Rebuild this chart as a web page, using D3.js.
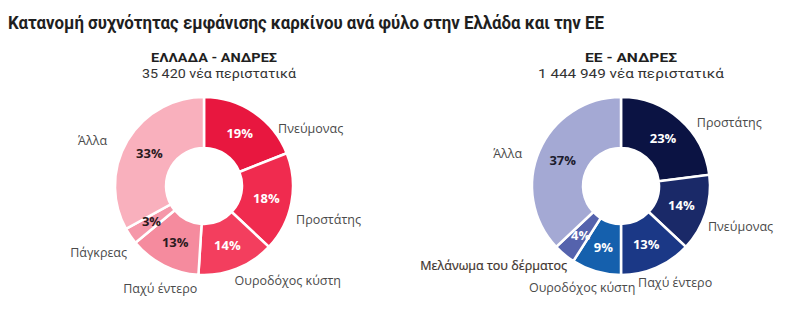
<!DOCTYPE html>
<html>
<head>
<meta charset="utf-8">
<script src="https://cdn.jsdelivr.net/npm/d3@7"></script>
<style>
  html, body { margin: 0; padding: 0; background: #ffffff; }
  svg { display: block; }
</style>
</head>
<body>
<div id="chart"></div>
<script>
// ---- Data ----
const titleText = "Κατανομή συχνότητας εμφάνισης καρκίνου ανά φύλο στην Ελλάδα και την ΕΕ";

const grTitle = "ΕΛΛΑΔΑ - ΑΝΔΡΕΣ";
const grSubtitle = "35 420 νέα περιστατικά";
const grCategories = ["Πνεύμονας", "Προστάτης", "Ουροδόχος κύστη", "Παχύ έντερο", "Πάγκρεας", "Άλλα"];
const grValues = [19, 18, 14, 13, 3, 33];

const euTitle = "ΕΕ - ΑΝΔΡΕΣ";
const euSubtitle = "1 444 949 νέα περιστατικά";
const euCategories = ["Προστάτης", "Πνεύμονας", "Παχύ έντερο", "Ουροδόχος κύστη", "Μελάνωμα του δέρματος", "Άλλα"];
const euValues = [23, 14, 13, 9, 4, 37];

// ---- Styles / layout ----
const grColors = ["#e8173f", "#f02b4f", "#f33e5e", "#f58b9e", "#f597a9", "#f9b0bd"];
const grPctColors = ["#ffffff", "#ffffff", "#ffffff", "#2b1a1d", "#2b1a1d", "#2b1a1d"];
const euColors = ["#0b1343", "#1a2968", "#1b3886", "#1560ad", "#5563ad", "#a4a9d4"];
const euPctColors = ["#ffffff", "#ffffff", "#ffffff", "#ffffff", "#ffffff", "#1c1c2e"];

// label placement: angle (deg, clockwise from top), distance from centre, anchor
const grLabelAngle = [52, 110, 162, 203, 229, 295];
const grLabelDist = [94, 98, 99, 112, 102, 107];
const grLabelAnchor = ["start", "start", "start", "middle", "end", "end"];
const euLabelAngle = [50, 115, 170, 172, 214, 288];
const euLabelDist = [99, 96, 98.5, 103, 96.5, 104];
const euLabelAnchor = ["start", "start", "start", "end", "end", "end"];
const euLabelEmph = [false, false, false, false, true, false];

const W = 793, H = 325;
const outerR = 89, innerR = 38;

const svg = d3.select("#chart").append("svg")
  .attr("width", W).attr("height", H);

svg.append("text")
  .attr("x", 8).attr("y", 29)
  .attr("font-family", "Roboto, sans-serif")
  .attr("font-weight", 700)
  .attr("font-size", 17.5)
  .attr("fill", "#1f1f1f")
  .attr("textLength", 596)
  .attr("lengthAdjust", "spacingAndGlyphs")
  .text(titleText);

function drawDonut(cfg) {
  const g = svg.append("g");
  g.append("text")
    .attr("x", cfg.headX).attr("y", 61.5)
    .attr("text-anchor", "middle")
    .attr("font-family", "Roboto, sans-serif")
    .attr("font-weight", 700).attr("font-size", 13)
    .attr("fill", "#1f1f1f")
    .attr("textLength", cfg.headW).attr("lengthAdjust", "spacingAndGlyphs")
    .text(cfg.title);
  g.append("text")
    .attr("x", cfg.subX).attr("y", 77.5)
    .attr("text-anchor", "middle")
    .attr("font-family", "Roboto, sans-serif")
    .attr("font-weight", 400).attr("font-size", 13)
    .attr("fill", "#333333")
    .attr("textLength", cfg.subW).attr("lengthAdjust", "spacingAndGlyphs")
    .text(cfg.subtitle);

  const pie = d3.pie().sort(null).value(d => d.value);
  const arc = d3.arc().innerRadius(innerR).outerRadius(outerR);
  const data = cfg.categories.map((c, i) => ({ name: c, value: cfg.values[i], i }));
  const arcs = pie(data);

  const dg = g.append("g").attr("transform", `translate(${cfg.cx},${cfg.cy})`);
  dg.selectAll("path.slice").data(arcs).join("path")
    .attr("class", "slice")
    .attr("d", arc)
    .attr("fill", d => cfg.colors[d.data.i])
    .attr("stroke", "#ffffff")
    .attr("stroke-width", 2.5)
    .attr("stroke-linejoin", "miter");

  dg.selectAll("text.pct").data(arcs).join("text")
    .attr("class", "pct")
    .attr("transform", d => `translate(${arc.centroid(d)})`)
    .attr("text-anchor", "middle")
    .attr("dy", "0.36em")
    .attr("font-family", "'Open Sans', sans-serif")
    .attr("font-weight", 700).attr("font-size", 13)
    .attr("fill", d => cfg.pctColors[d.data.i])
    .text(d => d.data.value + "%");

  dg.selectAll("text.lbl").data(arcs).join("text")
    .attr("class", "lbl")
    .attr("x", d => Math.sin(cfg.labelAngle[d.data.i] * Math.PI / 180) * cfg.labelDist[d.data.i])
    .attr("y", d => -Math.cos(cfg.labelAngle[d.data.i] * Math.PI / 180) * cfg.labelDist[d.data.i])
    .attr("dy", "0.35em")
    .attr("text-anchor", d => cfg.labelAnchor[d.data.i])
    .attr("font-family", "'Open Sans', sans-serif")
    .attr("font-weight", 400)
    .attr("font-size", 12.5)
    .attr("fill", d => (cfg.labelEmph && cfg.labelEmph[d.data.i]) ? "#3d322c" : "#4a4a4a")
    .attr("stroke", d => (cfg.labelEmph && cfg.labelEmph[d.data.i]) ? "#3d322c" : "none")
    .attr("stroke-width", 0.2)
    .text(d => d.data.name);
}

drawDonut({
  cx: 204, cy: 186, headX: 214, headW: 126, subX: 219, subW: 154,
  title: grTitle, subtitle: grSubtitle,
  categories: grCategories, values: grValues,
  colors: grColors, pctColors: grPctColors,
  labelAngle: grLabelAngle, labelDist: grLabelDist, labelAnchor: grLabelAnchor
});

drawDonut({
  cx: 621, cy: 186, headX: 631, headW: 92, subX: 631, subW: 186,
  title: euTitle, subtitle: euSubtitle,
  categories: euCategories, values: euValues,
  colors: euColors, pctColors: euPctColors,
  labelAngle: euLabelAngle, labelDist: euLabelDist, labelAnchor: euLabelAnchor,
  labelEmph: euLabelEmph
});
</script>
</body>
</html>
